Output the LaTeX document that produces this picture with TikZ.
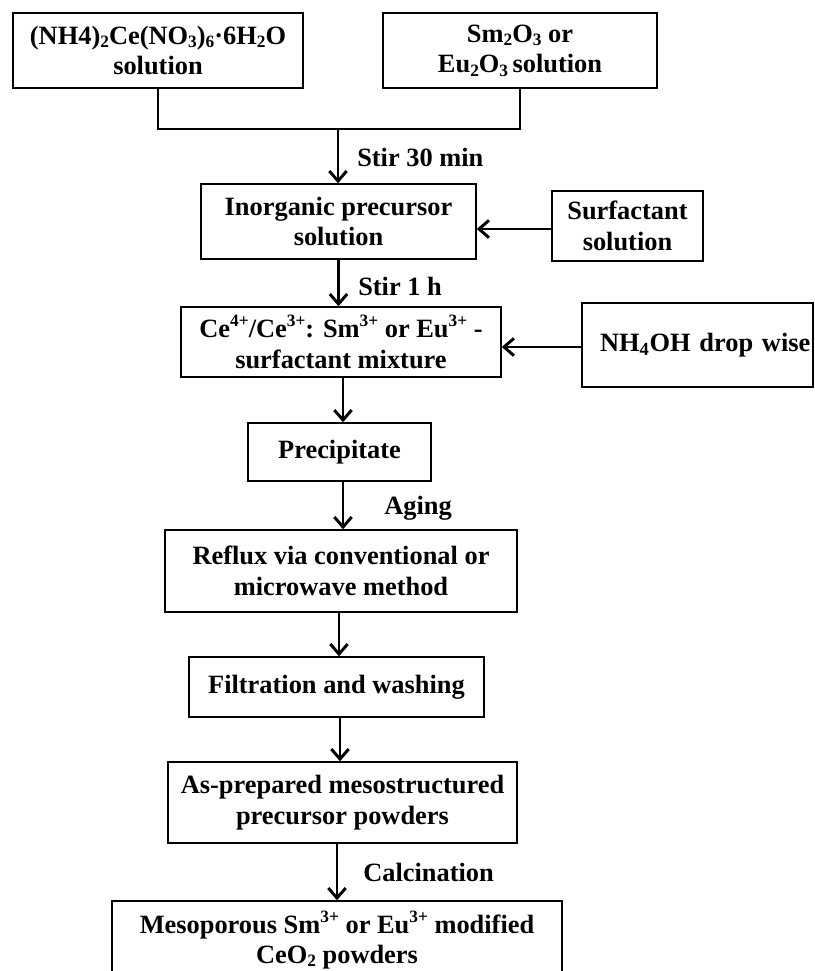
\documentclass[tikz,border=0pt]{standalone}
\usepackage{fontspec}
\setmainfont{Liberation Serif}
\usetikzlibrary{arrows.meta}
\newcommand\lowsub[1]{\raisebox{-0.12em}{\fontsize{13}{13}\selectfont #1}}
\newcommand\upsup[1]{\raisebox{0.42em}{\fontsize{13}{13}\selectfont #1}}
\begin{document}
\begin{tikzpicture}[x=0.75pt,y=-0.75pt,
  txt/.style={font=\fontsize{19.8}{23}\selectfont\bfseries},
  box/.style={txt, draw, line width=1.1pt, align=center, inner sep=0pt},
  sz/.style 2 args={minimum width=#1*0.75pt, minimum height=#2*0.75pt},
  lbl/.style={txt, anchor=base west, inner sep=0pt},
  arr/.style={line width=2.2pt, -{Straight Barb[length=7.5pt,width=13pt]}},
  thinline/.style={line width=1.1pt}]
\useasboundingbox (0,0) rectangle (814,971);
\clip (0,0) rectangle (814,971);

\node[box, sz={290}{75}] (b1) at (158,50.5) {(NH4)\lowsub{2}Ce(NO\lowsub{3})\lowsub{6}·6H\lowsub{2}O\\solution};
\node[box, sz={274}{75}] (b2) at (520,50.5) {Sm\lowsub{2}O\lowsub{3} or\\Eu\lowsub{2}O\lowsub{3}\,solution};
\node[box, sz={275}{75}] (b3) at (338.5,221.5) {Inorganic precursor\\solution};
\node[box, sz={151}{70}] (bs) at (627.5,226) {Surfactant\\solution};
\node[box, sz={320}{70}] (b4) at (341,342) {Ce\upsup{4+}/Ce\upsup{3+}: Sm\upsup{3+} or Eu\upsup{3+} -\\surfactant mixture};
\node[box, sz={231}{84}, text width=146.25pt, align=left] (bn) at (697.5,345) {\mbox{NH\textsubscript{4}OH drop wise}};
\node[box, sz={183}{58}] (b5) at (339.5,452) {Precipitate};
\node[box, sz={352}{82}] (b6) at (341,571) {Reflux via conventional or\\microwave method};
\node[box, sz={295}{60}] (b7) at (336.5,687) {Filtration and washing};
\node[box, sz={349}{81}] (b8) at (342.5,802.5) {As-prepared mesostructured\\precursor powders};
\node[box, sz={450}{78}] (b9) at (337,940) {Mesoporous Sm\upsup{3+} or Eu\upsup{3+} modified\\CeO\lowsub{2} powders};

% merging connector
\coordinate (j) at (338,129);
\draw[thinline] (b1.south) |- (j) -| (b2.south);
\draw[arr] (j) -- (j |- b3.north);

\draw[arr] (b3.south) -- (b3.south |- b4.north);
\draw[arr] (bs.west |- 0,229) -- (b3.east |- 0,229);
\draw[arr] (bn.west |- 0,347) -- (b4.east |- 0,347);
\draw[arr] (b4.south -| 343,0) -- (b5.north -| 343,0);
\draw[arr] (b5.south -| 343,0) -- (b6.north -| 343,0);
\draw[arr] (b6.south -| 339,0) -- (b7.north -| 339,0);
\draw[arr] (b7.south -| 340,0) -- (b8.north -| 340,0);
\draw[arr] (b8.south -| 337,0) -- (b9.north -| 337,0);

\node[lbl] (l1) at (357,166) {Stir 30 min};
\node[lbl] (l2) at (358,295) {Stir 1 h};
\node[lbl] (l3) at (384,514) {Aging};
\node[lbl] (l4) at (363,881) {Calcination};
\end{tikzpicture}
\end{document}
